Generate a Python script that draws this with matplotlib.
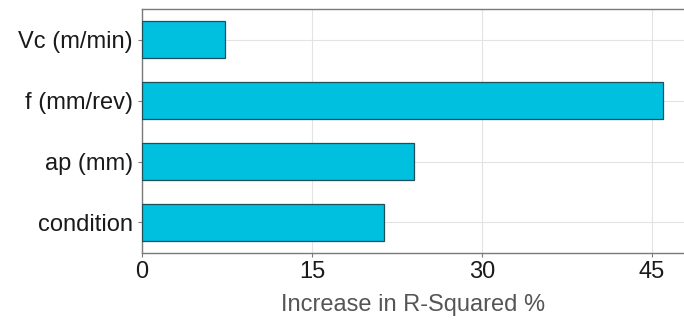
import matplotlib.pyplot as plt

plt.rcParams['font.family'] = ['Liberation Sans', 'DejaVu Sans']

factors = ['condition', 'ap (mm)', 'f (mm/rev)', 'Vc (m/min)']
increase = [21.4, 24.0, 46.0, 7.3]
xticks = [0, 15, 30, 45]

fig = plt.figure(figsize=(6.84, 3.26), dpi=100)
ax = fig.add_axes([0.2076, 0.224, 0.7924, 0.748])

ax.barh(range(len(factors)), increase, height=0.6, color='#00C0E0',
        edgecolor='#1f4f5a', linewidth=0.9, zorder=3)

ax.set_xlim(0, 47.85)
ax.set_ylim(-0.5, 3.5)
ax.set_xticks(xticks)
ax.set_yticks(range(len(factors)))
ax.set_yticklabels(factors)

ax.grid(True, color='#e3e3e3', linewidth=0.8, zorder=0)
for side in ['left', 'bottom', 'top']:
    ax.spines[side].set_color('#7a7a7a')
    ax.spines[side].set_linewidth(1.0)
ax.spines['right'].set_visible(False)

ax.tick_params(axis='both', colors='#7a7a7a', length=3, width=0.8,
               labelsize=17, labelcolor='#1a1a1a')
ax.tick_params(axis='x', pad=3)
ax.set_xlabel('Increase in R-Squared %', fontsize=17, color='#555555', labelpad=8)

fig.savefig('out.png', dpi=100)
